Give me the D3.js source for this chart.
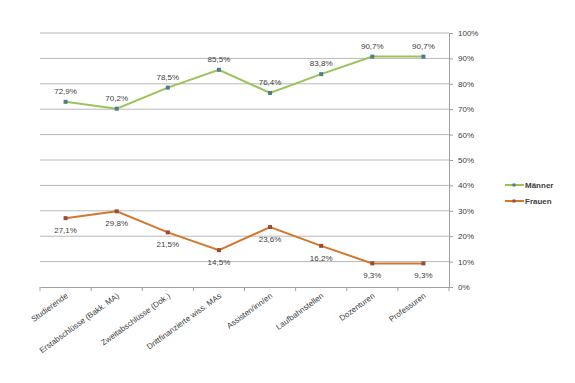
<!DOCTYPE html>
<html><head><meta charset="utf-8">
<script src="https://cdn.jsdelivr.net/npm/d3@7"></script>
<style>body{margin:0;background:#fff}svg{display:block}text{font-family:"Liberation Sans",Arial,sans-serif;fill:#404040}</style>
</head><body>
<svg id="c" width="575" height="383"></svg>
<script>
const categories = ["Studierende","Erstabschlüsse (Bakk. MA)","Zweitabschlüsse (Dok.)","Drittfinanzierte wiss. MAs","Assisten/inn/en","Laufbahnstellen","Dozenturen","Professuren"];
const maenner = [72.9,70.2,78.5,85.5,76.4,83.8,90.7,90.7];
const frauen = [27.1,29.8,21.5,14.5,23.6,16.2,9.3,9.3];
const yTicks = [0,10,20,30,40,50,60,70,80,90,100];
const seriesNames = ["Männer","Frauen"];

const svg = d3.select("#c");
const L=40,R=449,T=33,B=287;
const x = d3.scaleBand().domain(categories).range([L,R]);
const y = d3.scaleLinear().domain([0,100]).range([B,T]);
const fmt = v => v.toFixed(1).replace(".",",")+"%";

// gridlines
svg.append("g").selectAll("line").data(yTicks.filter(d=>d>0)).join("line")
  .attr("x1",L).attr("x2",R).attr("y1",d=>y(d)).attr("y2",d=>y(d))
  .attr("stroke","#b8b8b8").attr("stroke-width",1);

// right axis
const ya = svg.append("g").attr("transform",`translate(${R},0)`)
  .call(d3.axisRight(y).tickValues(yTicks).tickSize(4).tickPadding(5).tickFormat(d=>d+"%"));
ya.select(".domain").attr("stroke","#a0a0a0");
ya.selectAll(".tick line").attr("stroke","#a0a0a0");
ya.selectAll("text").attr("font-size",8).attr("fill","#404040").style("font-family","Liberation Sans, Arial, sans-serif");

// bottom axis
const xa = svg.append("g").attr("transform",`translate(0,${B})`)
  .call(d3.axisBottom(x).tickSize(0).tickFormat(""));
xa.select(".domain").attr("stroke","#a0a0a0");
const bounds = d3.range(categories.length+1).map(i=>L+i*x.step());
svg.append("g").selectAll("line").data(bounds).join("line")
  .attr("x1",d=>d).attr("x2",d=>d).attr("y1",B).attr("y2",B+4).attr("stroke","#a0a0a0");
svg.append("g").selectAll("text").data(categories).join("text")
  .attr("transform",d=>`translate(${x(d)+x.bandwidth()/2+3},${B+10}) rotate(-36)`)
  .attr("text-anchor","end").attr("font-size",8).text(d=>d);

const cx = d => x(d)+x.bandwidth()/2;
function series(vals,lineCol,markCol,above){
  const pts = categories.map((c,i)=>[cx(c),y(vals[i]),vals[i]]);
  svg.append("path").datum(pts).attr("d",d3.line()).attr("fill","none")
    .attr("stroke",lineCol).attr("stroke-width",2);
  svg.append("g").selectAll("rect").data(pts).join("rect")
    .attr("x",d=>d[0]-2).attr("y",d=>d[1]-2).attr("width",4).attr("height",4).attr("fill",markCol);
  svg.append("g").selectAll("text").data(pts).join("text")
    .attr("x",d=>d[0]).attr("y",d=>above? d[1]-8 : d[1]+15)
    .attr("text-anchor","middle").attr("font-size",8).text(d=>fmt(d[2]));
}
series(maenner,"#9bc35a","#4e7d8a",true);
series(frauen,"#d2782e","#9b4a3a",false);

// legend
const lg = [[seriesNames[0],"#9bc35a","#4e7d8a",185],[seriesNames[1],"#d2782e","#9b4a3a",201]];
lg.forEach(([n,lc,mc,ly])=>{
  svg.append("line").attr("x1",505).attr("x2",524).attr("y1",ly).attr("y2",ly).attr("stroke",lc).attr("stroke-width",2);
  svg.append("rect").attr("x",512.5).attr("y",ly-1.5).attr("width",3).attr("height",3).attr("fill",mc);
  svg.append("text").attr("x",525).attr("y",ly+3).attr("font-size",8).attr("font-weight","bold").text(n);
});
</script>
</body></html>
